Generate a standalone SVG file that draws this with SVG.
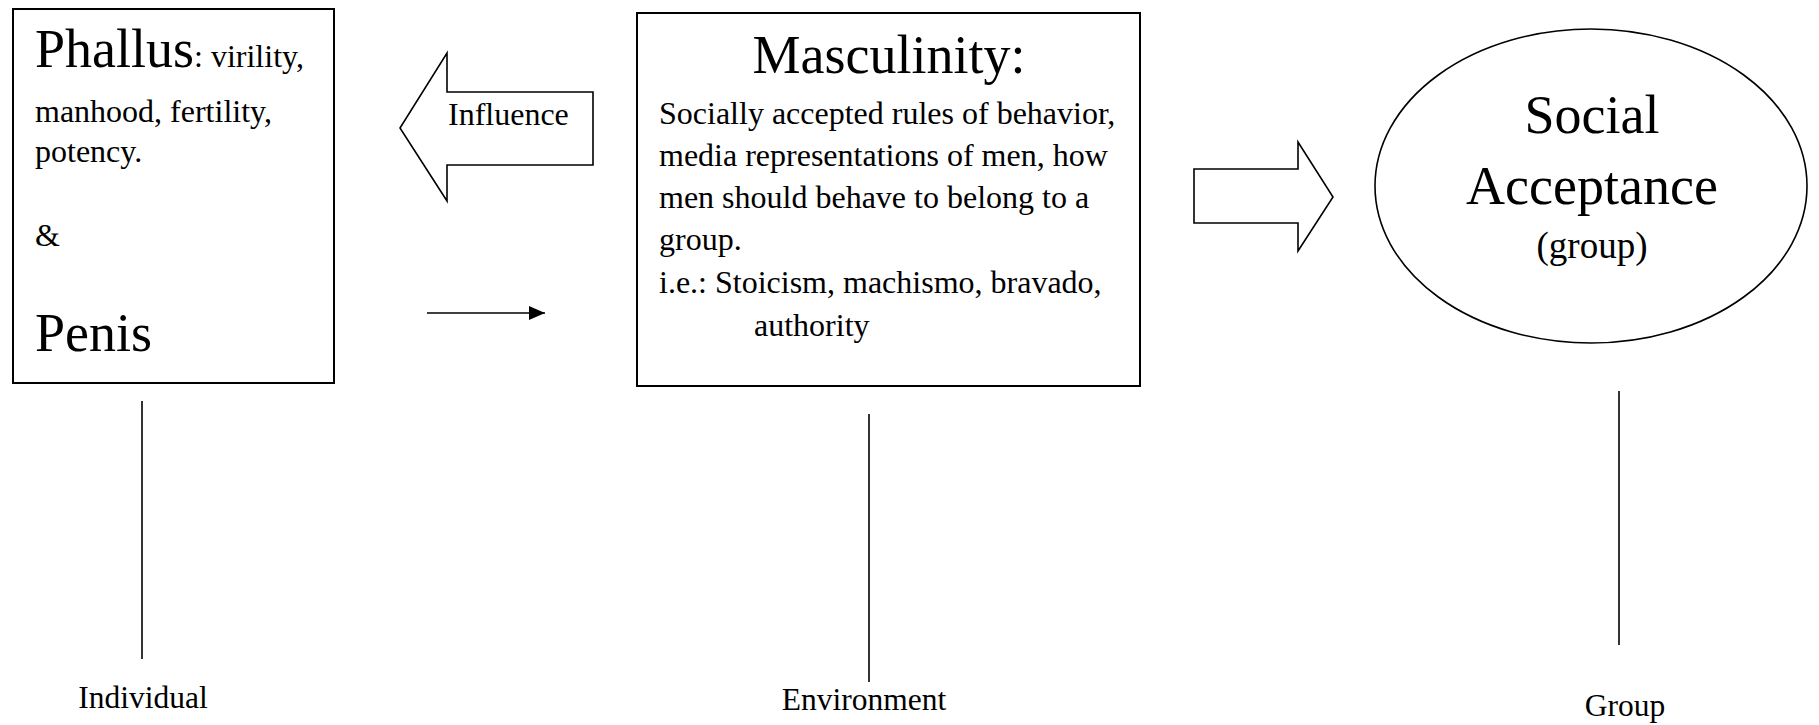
<svg xmlns="http://www.w3.org/2000/svg" width="1819" height="725" viewBox="0 0 1819 725">
<style>
text{font-family:"Liberation Serif","Times New Roman",serif;fill:#000}
.big{font-size:54px}
.sm{font-size:32px}
.lbl{font-size:31.5px}
.box{fill:#fff;stroke:#000;stroke-width:2}
.blk{fill:#fff;stroke:#000;stroke-width:1.6}
.ln{stroke:#000;stroke-width:1.6;fill:none}
</style>
<defs>
<marker id="ah" markerWidth="16" markerHeight="14" refX="16" refY="7" orient="auto" markerUnits="userSpaceOnUse">
<path d="M0,0 L16,7 L0,14 Z" fill="#000"/>
</marker>
</defs>
<rect width="1819" height="725" fill="#fff"/>
<g id="phallus">
<rect class="box" x="13" y="9" width="321" height="374"/>
<text x="35" y="67"><tspan class="big">Phallus</tspan><tspan class="sm">: virility,</tspan></text>
<text class="sm" x="35" y="122">manhood, fertility,</text>
<text class="sm" x="35" y="162">potency.</text>
<text class="sm" x="35" y="246">&amp;</text>
<text class="big" x="35" y="351">Penis</text>
</g>
<g id="masculinity">
<rect class="box" x="637" y="13" width="503" height="373"/>
<text class="big" x="889" y="73" text-anchor="middle">Masculinity:</text>
<text class="sm" x="659" y="124">Socially accepted rules of behavior,</text>
<text class="sm" x="659" y="166">media representations of men, how</text>
<text class="sm" x="659" y="208">men should behave to belong to a</text>
<text class="sm" x="659" y="250">group.</text>
<text class="sm" x="659" y="293">i.e.: Stoicism, machismo, bravado,</text>
<text class="sm" x="754" y="336">authority</text>
</g>
<g id="social">
<ellipse class="blk" cx="1591" cy="186" rx="216" ry="157"/>
<text class="big" x="1592" y="133" text-anchor="middle">Social</text>
<text class="big" x="1592" y="204" text-anchor="middle">Acceptance</text>
<text x="1592" y="258" text-anchor="middle" style="font-size:37px">(group)</text>
</g>
<g id="label-individual"><text class="lbl" x="143" y="708" text-anchor="middle">Individual</text></g>
<g id="label-environment"><text class="lbl" x="864" y="710" text-anchor="middle">Environment</text></g>
<g id="label-group"><text class="lbl" x="1625" y="716" text-anchor="middle">Group</text></g>
<g id="connectors">
<g id="influence-arrow">
<path class="blk" d="M593,92 L447,92 L447,53 L400,128 L447,201 L447,165 L593,165 Z"/>
<text class="sm" x="448" y="125">Influence</text>
</g>
<line class="ln" x1="427" y1="313" x2="545" y2="313" marker-end="url(#ah)"/>
<path class="blk" d="M1194,169 L1298,169 L1298,142 L1333,197 L1298,251 L1298,223 L1194,223 Z"/>
<line class="ln" x1="142" y1="401" x2="142" y2="659"/>
<line class="ln" x1="869" y1="414" x2="869" y2="682"/>
<line class="ln" x1="1619" y1="391" x2="1619" y2="645"/>
</g>
</svg>
